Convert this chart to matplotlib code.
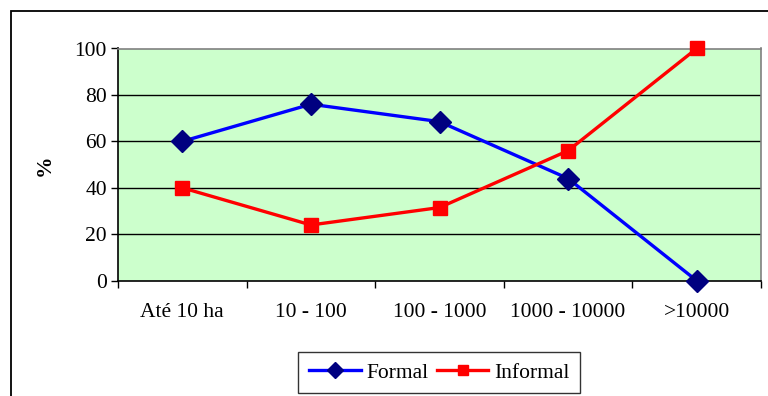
import matplotlib
matplotlib.use("Agg")
import matplotlib.pyplot as plt
from matplotlib.patches import Rectangle

categories = ["Até 10 ha", "10 - 100", "100 - 1000", "1000 - 10000", ">10000"]
formal = [60, 76, 68.5, 44, 0]
informal = [40, 24, 31.5, 56, 100]
yticks = [0, 20, 40, 60, 80, 100]

plt.rcParams['font.family'] = ['Liberation Serif', 'DejaVu Serif']
FS = 15.5

W, H = 768, 396
fig = plt.figure(figsize=(W/100, H/100), dpi=100)

# outer frame (extends beyond right/bottom edge)
fig.patches.append(Rectangle((11/W, -0.05), 1.1, 1 - 11/H + 0.05, transform=fig.transFigure,
                             fill=False, edgecolor='black', linewidth=1.3, zorder=0))

left, right, top, bottom = 118, 761, 48.5, 280.7
ax = fig.add_axes([left/W, 1 - bottom/H, (right-left)/W, (bottom-top)/H])
ax.set_facecolor('#CCFFCC')

x = list(range(len(categories)))
ax.plot(x, formal, color='#0000FF', linewidth=2.4, marker='D', markersize=11,
        markerfacecolor='#000080', markeredgecolor='#000080', label='Formal', zorder=3,
        clip_on=False)
ax.plot(x, informal, color='#FF0000', linewidth=2.4, marker='s', markersize=9.5,
        markerfacecolor='#FF0000', markeredgecolor='#FF0000', label='Informal', zorder=3,
        clip_on=False)

ax.set_xlim(-0.5, len(categories) - 0.5)
ax.set_ylim(0, 100)
ax.set_yticks(yticks)
ax.set_yticklabels([str(v) for v in yticks], fontsize=FS)
ax.set_xticks(x)
ax.set_xticklabels(categories, fontsize=FS)
ax.set_xticks([i + 0.5 for i in range(-1, len(categories))], minor=True)
ax.tick_params(axis='x', which='major', length=0, pad=16)
ax.tick_params(axis='x', which='minor', length=5, width=1, color='black', direction='out')
ax.tick_params(axis='y', length=5, width=1, direction='out', pad=3)

for v in yticks[1:-1]:
    ax.axhline(v, color='black', linewidth=1, zorder=1)

ax.spines['left'].set_color('black')
ax.spines['bottom'].set_color('black')
ax.spines['top'].set_color('#808080')
ax.spines['right'].set_color('#808080')
for s in ax.spines.values():
    s.set_linewidth(1.2)

fig.text(45/W, 1 - 165/H, '%', rotation=90, fontsize=FS, fontweight='bold',
         ha='center', va='center')

leg = ax.legend(loc='center', bbox_to_anchor=((439 - left)/(right-left), (bottom - 372.5)/(bottom-top)),
                ncol=2, frameon=True, fancybox=False, shadow=False, fontsize=FS,
                handlelength=2.4, handletextpad=0.25, columnspacing=0.4, borderpad=0.5,
                borderaxespad=0, markerscale=0.75)
leg.get_frame().set_edgecolor('black')
leg.get_frame().set_linewidth(1.0)

fig.savefig('out.png', dpi=100)
